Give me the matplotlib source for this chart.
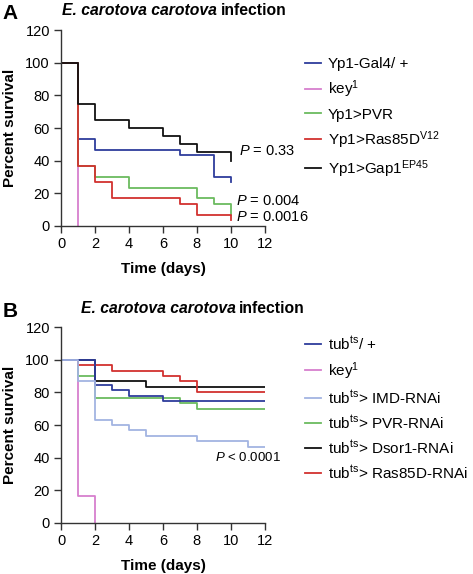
import matplotlib
matplotlib.use("Agg")
import matplotlib.pyplot as plt

plt.rcParams['font.family'] = ['Liberation Sans', 'DejaVu Sans']
plt.rcParams['mathtext.fontset'] = 'custom'
plt.rcParams['mathtext.rm'] = 'Liberation Sans'
plt.rcParams['mathtext.it'] = 'Liberation Sans:italic'
plt.rcParams['mathtext.bf'] = 'Liberation Sans:bold'

# panel A: Yp1 lines (days, percent survival)
a_labels = ["Yp1-Gal4/ +", "key$^1$", "Yp1>PVR", "Yp1>Ras85D$^{\\mathrm{V12}}$", "Yp1>Gap1$^{\\mathrm{EP45}}$"]
a_colors = ["#2e3d9c", "#d77fce", "#6bbb5f", "#d2312f", "#111111"]
a_days = [
    [0, 1, 2, 7, 9, 10],
    [0, 1],
    [0, 1, 2, 4, 8, 9, 10],
    [0, 1, 2, 3, 7, 8, 10],
    [0, 1, 2, 4, 6, 7, 8, 10],
]
a_surv = [
    [100, 53.3, 46.7, 43.3, 30, 26.7],
    [100, 0],
    [100, 36.7, 30, 23.3, 16.7, 13.3, 6.7],
    [100, 36.7, 26.7, 16.7, 13.3, 6.7, 3.3],
    [100, 75, 65, 60, 55, 50, 45, 40],
]
a_pvals = ["$P$ = 0.33", "$P$ = 0.004", "$P$ = 0.0016"]
a_pxy = [(10.45, 46), (10.3, 15), (10.3, 5)]

# panel B: tub-ts RNAi lines
b_labels = ["tub$^{\\mathrm{ts}}$/ +", "key$^1$", "tub$^{\\mathrm{ts}}$> IMD-RNAi", "tub$^{\\mathrm{ts}}$> PVR-RNAi",
            "tub$^{\\mathrm{ts}}$> Dsor1-RNAi", "tub$^{\\mathrm{ts}}$> Ras85D-RNAi"]
b_colors = ["#2e3d9c", "#d77fce", "#a3b4e2", "#6bbb5f", "#111111", "#d2312f"]
b_days = [
    [0, 2, 3, 4, 6, 12],
    [0, 1, 2],
    [0, 1, 2, 3, 4, 5, 8, 11, 12],
    [0, 1, 2, 7, 8, 12],
    [0, 2, 5, 12],
    [0, 1, 3, 6, 7, 8, 12],
]
b_surv = [
    [100, 84.4, 81.3, 78.1, 75, 75],
    [100, 16.7, 0],
    [100, 86.7, 63.3, 60, 56.7, 53.3, 50, 46.7, 46.7],
    [100, 90, 76.7, 73.3, 70, 70],
    [100, 86.7, 83.3, 83.3],
    [100, 96.7, 93.3, 90, 86.7, 80, 80],
]
b_order = [1, 3, 4, 5, 0, 2]  # drawing order, last on top

fig = plt.figure(figsize=(4.73, 5.74), dpi=100)
axA = fig.add_axes([0.129, 0.607, 0.431, 0.340])
axB = fig.add_axes([0.129, 0.089, 0.431, 0.341])


def style_axis(ax):
    ax.set_xlim(0, 12)
    ax.set_ylim(0, 120)
    ax.set_xticks(range(0, 13, 2))
    ax.set_yticks(range(0, 121, 20))
    for s in ["top", "right"]:
        ax.spines[s].set_visible(False)
    for s in ["left", "bottom"]:
        ax.spines[s].set_color("#333333")
        ax.spines[s].set_linewidth(1.0)
    ax.tick_params(direction="out", length=5, width=1.0, color="#333333", labelsize=10.5, pad=3)
    ax.set_xlabel("Time (days)", fontsize=11, fontweight="bold", labelpad=8)
    ax.set_ylabel("Percent survival", fontsize=11, fontweight="bold", labelpad=6)


handlesA = {}
for i in [1, 0, 2, 3, 4]:
    ln, = axA.step(a_days[i], a_surv[i], where="post", color=a_colors[i], lw=1.3, label=a_labels[i])
    handlesA[i] = ln
style_axis(axA)
for txt, (x, y) in zip(a_pvals, a_pxy):
    axA.text(x, y, txt, fontsize=10.5, va="center", ha="left", clip_on=False)

handlesB = {}
for i in b_order:
    ln, = axB.step(b_days[i], b_surv[i], where="post", color=b_colors[i], lw=1.3, label=b_labels[i])
    handlesB[i] = ln
style_axis(axB)
axB.text(9.05, 40, "$P$ < 0.0001", fontsize=9.5, va="center", ha="left", clip_on=False)

legkw = dict(loc="upper left", frameon=False, fontsize=11, handlelength=1.05,
             handletextpad=0.45, borderpad=0, borderaxespad=0, labelspacing=0.48)
fig.legend([handlesA[i] for i in range(5)], a_labels, bbox_to_anchor=(0.645, 0.900), **legkw)
fig.legend([handlesB[i] for i in range(6)], b_labels, bbox_to_anchor=(0.645, 0.416), **legkw)

# panel letters and titles
for letter, y, xj in [("A", 0.981, 0.459), ("B", 0.462, 0.498)]:
    fig.text(0.005, y - 0.004, letter, fontsize=15, fontweight="bold", va="center", ha="left")
    fig.text(xj, y, "E. carotova carotova", fontsize=11.3, fontweight="bold", style="italic",
             va="center", ha="right")
    fig.text(xj + 0.008, y, "infection", fontsize=11.3, fontweight="bold", va="center", ha="left")

fig.savefig("out.png", dpi=100)
